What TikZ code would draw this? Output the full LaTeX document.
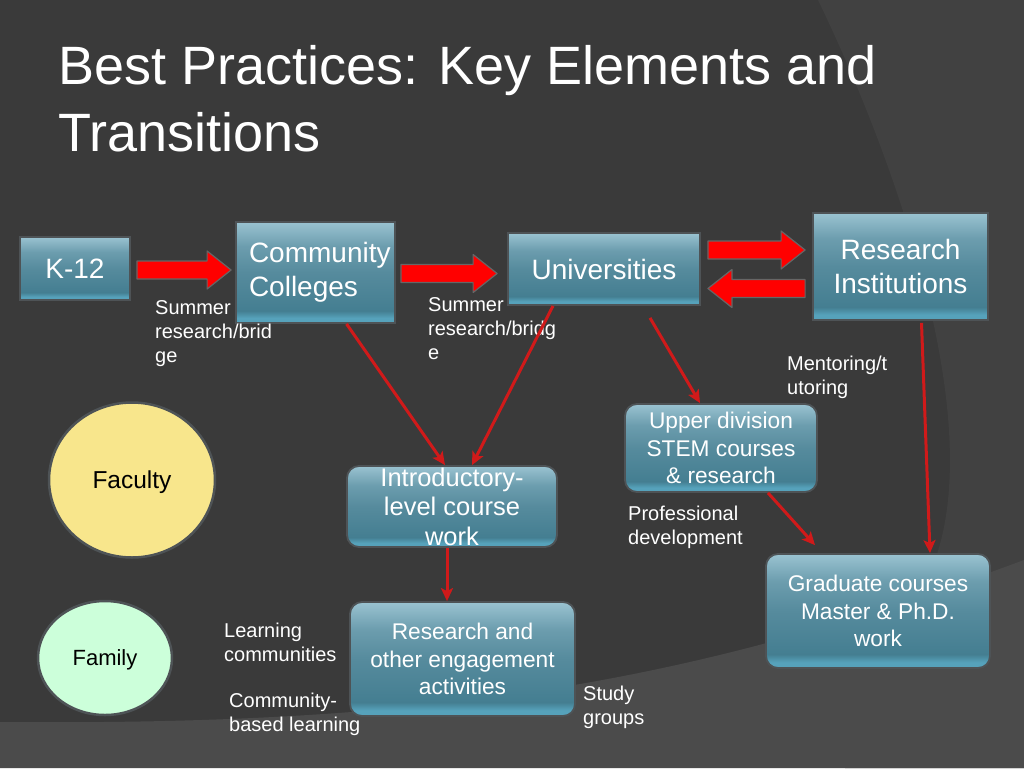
\documentclass[tikz,border=0pt]{standalone}
\usepackage{fontspec}
\setmainfont{Liberation Sans}
\usetikzlibrary{shapes.geometric,calc,arrows.meta}

\definecolor{slidebg}{HTML}{3A3A3A}
\definecolor{slidearc}{HTML}{414141}
\definecolor{slideband}{HTML}{4B4B4B}
\definecolor{boxtop}{HTML}{9AC3D1}
\definecolor{boxupper}{HTML}{6C9DAE}
\definecolor{boxmid}{HTML}{568B9D}
\definecolor{boxlow}{HTML}{447E91}
\definecolor{boxedge}{HTML}{56A2BB}
\definecolor{boxline}{HTML}{4E5356}
\definecolor{linkred}{HTML}{D01A1A}
\definecolor{facultyfill}{HTML}{F8E68C}
\definecolor{familyfill}{HTML}{CCFFDA}

\pgfdeclareverticalshading{boxshade}{100bp}{color(0bp)=(boxedge); color(25bp)=(boxedge);
  color(27.5bp)=(boxedge); color(31bp)=(boxlow); color(50bp)=(boxmid);
  color(63bp)=(boxupper); color(75bp)=(boxtop); color(100bp)=(boxtop)}

\newcommand{\blockarrow}[2]{%
  \path[blockarrow] let \p1=(#1), \p2=(#2), \n1={sign(\x2-\x1)} in
    (\x1,{\y1+9pt}) -- ({\x2-(\n1)*24pt},{\y1+9pt}) -- ({\x2-(\n1)*24pt},{\y1+19pt})
    -- (\x2,\y1) -- ({\x2-(\n1)*24pt},{\y1-19pt}) -- ({\x2-(\n1)*24pt},{\y1-9pt})
    -- (\x1,{\y1-9pt}) -- cycle;}

\begin{document}
\begin{tikzpicture}[x=1pt, y=-1pt]
    \tikzset{
        title/.style={text=white, align=left, inner sep=0pt,
            font=\fontsize{54}{67}\selectfont},
        box/.style={draw=boxline, line width=1.8pt, text=white, align=center,
            inner sep=0pt, shading=boxshade},
        topbox/.style={box, font=\fontsize{28}{34}\selectfont},
        roundbox/.style={box, rounded corners=12pt, font=\fontsize{22.7}{27.5}\selectfont},
        person/.style={ellipse, draw=boxline, line width=2.5pt, inner sep=0pt,
            text=black, text depth=0pt},
        note/.style={text=white, align=left, inner sep=0pt, anchor=north west,
            font=\fontsize{20}{24}\selectfont},
        blockarrow/.style={fill=red, draw=black!60, line width=1.2pt, line join=round},
        link/.style={draw=linkred, line width=3pt,
            -{Stealth[length=13pt, width=12pt, inset=3pt]}}
    }

    \useasboundingbox (0,0) rectangle (1024,768);
    \fill[slidebg] (0,0) rectangle (1024,768);
    \fill[slidearc] (818,0) .. controls (900,170) and (985,420) .. (935,560)
        .. controls (910,640) and (870,700) .. (845,768) -- (1024,768) -- (1024,0) -- cycle;
    \fill[slideband] (0,722) .. controls (450,726) and (700,680) .. (1024,560)
        -- (1024,768) -- (0,768) -- cycle;

    \node[title, anchor=north west] (head) at (58,45) {Best Practices: Key Elements and\\Transitions};

    \node[topbox, minimum width=110pt, minimum height=63pt] (k12) at (75,268.5) {K-12};
    \node[topbox, text width=133pt, inner xsep=13pt, align=left, minimum height=101pt]
        (cc) at (315.5,272.5) {Community\\Colleges};
    \node[topbox, minimum width=192pt, minimum height=72pt] (univ) at (604,269) {Universities};
    \node[topbox, minimum width=175pt, minimum height=107pt] (ri) at (900.5,266.5) {Research\\Institutions};

    \node[roundbox, minimum width=210pt, minimum height=81pt, font=\fontsize{25.5}{29.5}\selectfont]
        (intro) at (452,506.5) {Introductory-\\level course\\work};
    \node[roundbox, minimum width=225pt, minimum height=114pt] (engage) at (462.5,659)
        {Research and\\other engagement\\activities};
    \node[roundbox, minimum width=192pt, minimum height=88pt] (upper) at (721,448)
        {Upper division\\STEM courses\\\& research};
    \node[roundbox, minimum width=224pt, minimum height=114pt] (grad) at (878,611)
        {Graduate courses\\Master \& Ph.D.\\work};

    \node[person, fill=facultyfill, minimum width=166pt, minimum height=155pt,
        font=\fontsize{24.5}{29}\selectfont] (faculty) at (132,480) {Faculty};
    \node[person, fill=familyfill, minimum width=134pt, minimum height=114pt,
        font=\fontsize{22}{26}\selectfont] (family) at (105,658) {Family};

    \node[note] (bridgecc) at (155,300) {Summer\\research/brid\\ge};
    \node[note] (bridgeuni) at (428,297) {Summer\\research/bridg\\e};
    \node[note] (mentor) at (787,356) {Mentoring/t\\utoring};
    \node[note] (profdev) at (628,506) {Professional\\development};
    \node[note] (learncomm) at (224,623) {Learning\\communities};
    \node[note] (commbased) at (229,693) {Community-\\based learning};
    \node[note] (study) at (583,686) {Study\\groups};

    \blockarrow{[xshift=6pt, yshift=-1.5pt]k12.east}{[xshift=-4pt]cc.west}
    \blockarrow{[xshift=5pt, yshift=-1pt]cc.east}{[xshift=-10pt]univ.west}
    \blockarrow{[xshift=7pt, yshift=19pt]univ.east}{[xshift=-7pt]ri.west}
    \blockarrow{[xshift=-7pt, yshift=-22pt]ri.west}{[xshift=7pt]univ.east}

    \draw[link] ([xshift=31pt]cc.south) -- ([xshift=-7pt]intro.north);
    \draw[link] ([xshift=-51pt]univ.south) -- ([xshift=20pt]intro.north);
    \draw[link] ([xshift=46pt, yshift=-12pt]univ.south) -- ([xshift=-21pt]upper.north);
    \draw[link] ([xshift=-5pt]intro.south) -- ([xshift=-15.5pt]engage.north);
    \draw[link] ([xshift=47pt]upper.south) -- ([xshift=-63pt, yshift=8pt]grad.north);
    \draw[link] ([xshift=21pt, yshift=-2pt]ri.south) -- ([xshift=52pt]grad.north);
\end{tikzpicture}
\end{document}
